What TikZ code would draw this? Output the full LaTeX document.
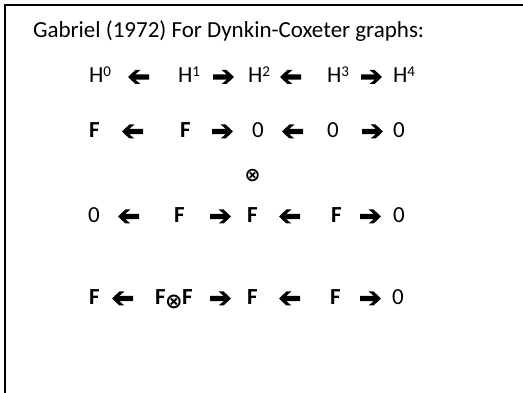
\documentclass[tikz,border=0pt]{standalone}
\usepackage{fontspec}
\setmainfont{Carlito}
\newfontfamily\symfont{DejaVu Sans}
\newcommand{\Hsup}[1]{H\raisebox{6.5pt}{\fontsize{15}{15}\selectfont #1}}
\tikzset{
  txt/.style={anchor=base west, inner sep=0pt, outer sep=0pt, font=\fontsize{23}{27}\selectfont},
  bftxt/.style={txt, font=\fontsize{23}{27}\selectfont\bfseries},
  otimes/.style={anchor=center, inner sep=0pt, outer sep=0pt, font=\symfont\bfseries\fontsize{19}{19}\selectfont},
  rarr/.pic={\fill (0,2.6) -- (13.8,2.6) -- (8.6,7) -- (13.6,7) -- (21,0) -- (13.6,-7) -- (8.6,-7) -- (13.8,-2.6) -- (0,-2.6) -- cycle;},
  larr/.pic={\fill (21,2.6) -- (7.2,2.6) -- (12.4,7) -- (7.4,7) -- (0,0) -- (7.4,-7) -- (12.4,-7) -- (7.2,-2.6) -- (21,-2.6) -- cycle;},
  frame/.style={line width=2pt, black}
}
\begin{document}
\begin{tikzpicture}[x=1pt,y=1pt]
\useasboundingbox (0,0) rectangle (523,-393);
\fill[white] (0,0) rectangle (523,-393);
\draw[frame] (5,-393) -- (5,-5) -- (523,-5);
% title
\node[txt] (title) at (33,-38) {Gabriel (1972) For Dynkin-Coxeter graphs:};
% row 1
\node[txt] (h0) at (89,-83) {\Hsup{0}};
\pic at (128,-77) {larr};
\node[txt] (h1) at (178,-83) {\Hsup{1}};
\pic at (213,-77) {rarr};
\node[txt] (h2) at (248,-83) {\Hsup{2}};
\pic at (280,-77) {larr};
\node[txt] (h3) at (327,-83) {\Hsup{3}};
\pic at (361,-77) {rarr};
\node[txt] (h4) at (393,-83) {\Hsup{4}};
% row 2
\node[bftxt] (a1) at (89,-138) {F};
\pic at (122,-131.5) {larr};
\node[bftxt] (a2) at (180,-138) {F};
\pic at (212,-131.5) {rarr};
\node[txt] (a3) at (252,-138) {0};
\pic at (282,-131.5) {larr};
\node[txt] (a4) at (327,-138) {0};
\pic at (362,-131.5) {rarr};
\node[txt] (a5) at (393,-138) {0};
% tensor
\node[otimes] (t1) at (252.5,-175.5) {⊗};
% row 3
\node[txt] (b1) at (88,-223) {0};
\pic at (118,-216.5) {larr};
\node[bftxt] (b2) at (174,-223) {F};
\pic at (210,-216.5) {rarr};
\node[bftxt] (b3) at (247,-223) {F};
\pic at (279,-216.5) {larr};
\node[bftxt] (b4) at (331,-223) {F};
\pic at (360,-216.5) {rarr};
\node[txt] (b5) at (393,-223) {0};
% row 4
\node[bftxt] (c1) at (89,-305) {F};
\pic at (112,-298.5) {larr};
\node[bftxt] (c2) at (155,-305) {F\kern-0.5pt\raisebox{-4pt}{\symfont\bfseries\fontsize{21}{21}\selectfont ⊗}\kern-0.5pt F};
\pic at (210,-298.5) {rarr};
\node[bftxt] (c3) at (247,-305) {F};
\pic at (279,-298.5) {larr};
\node[bftxt] (c4) at (330,-305) {F};
\pic at (360,-298.5) {rarr};
\node[txt] (c5) at (392,-305) {0};
\end{tikzpicture}
\end{document}
